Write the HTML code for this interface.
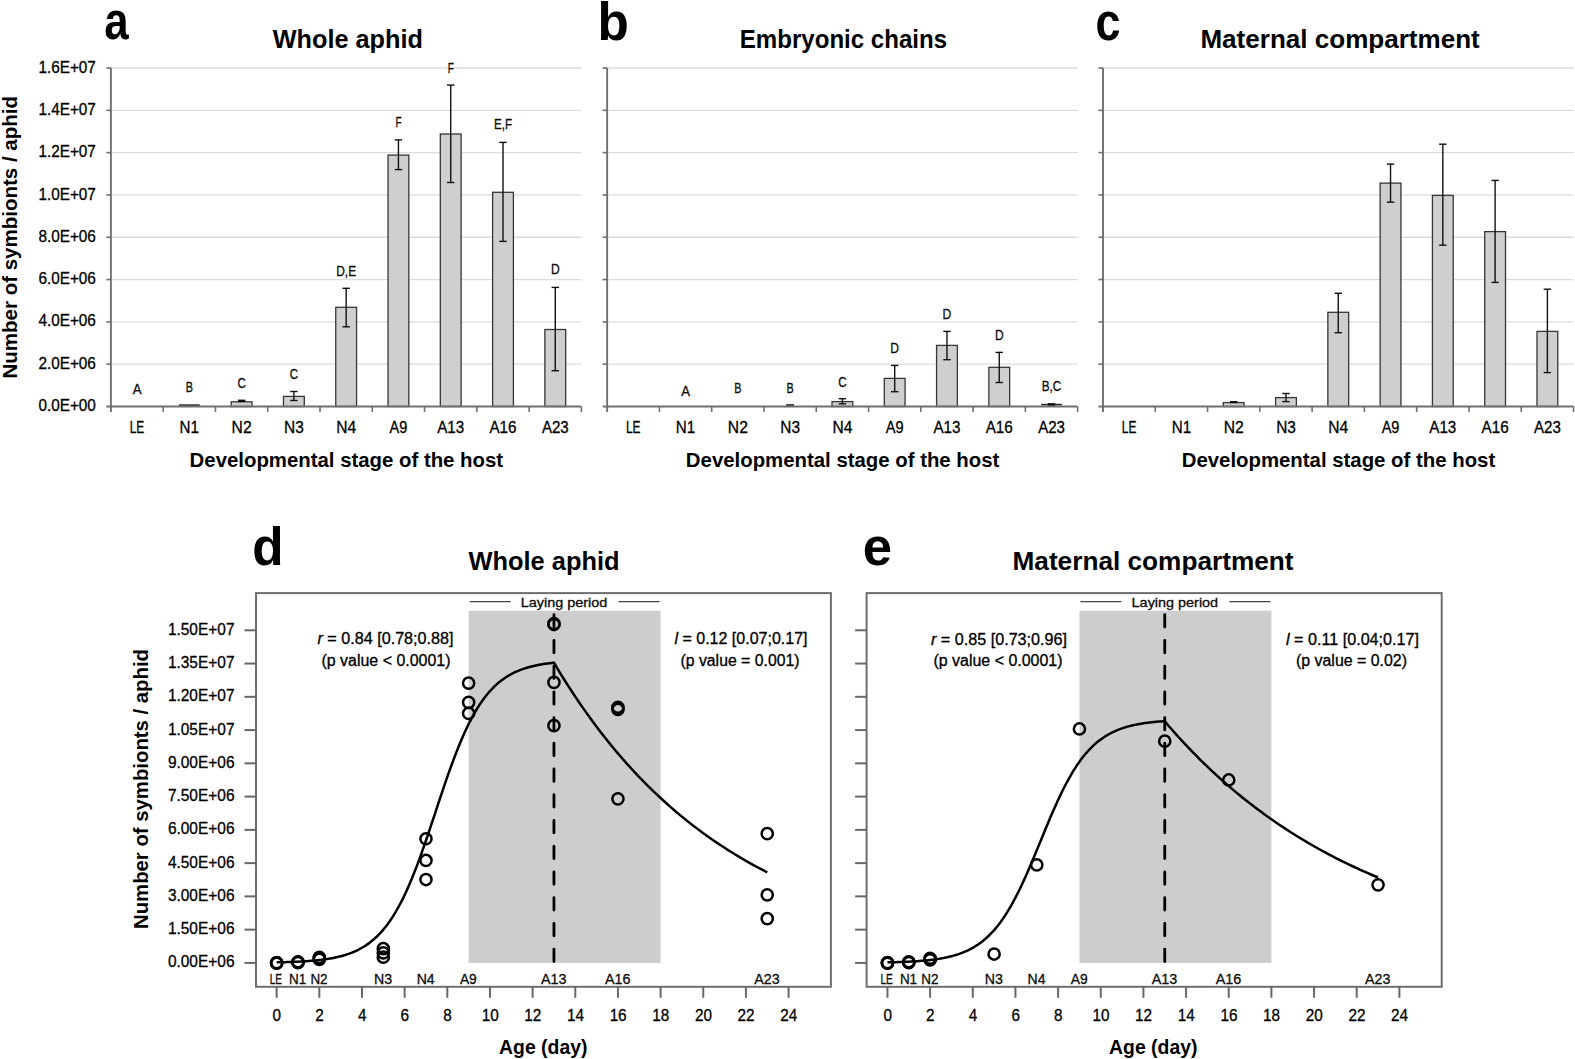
<!DOCTYPE html>
<html><head><meta charset="utf-8"><title>Figure</title>
<style>
html,body{margin:0;padding:0;background:#fff;}
svg{display:block;font-family:'Liberation Sans', sans-serif;}
</style></head><body>
<svg width="1575" height="1059" viewBox="0 0 1575 1059">
<rect width="1575" height="1059" fill="#fff"/>
<line x1="110.90" y1="364.19" x2="581.42" y2="364.19" stroke="#dcdcdc" stroke-width="1.3"/>
<line x1="110.90" y1="321.88" x2="581.42" y2="321.88" stroke="#dcdcdc" stroke-width="1.3"/>
<line x1="110.90" y1="279.56" x2="581.42" y2="279.56" stroke="#dcdcdc" stroke-width="1.3"/>
<line x1="110.90" y1="237.25" x2="581.42" y2="237.25" stroke="#dcdcdc" stroke-width="1.3"/>
<line x1="110.90" y1="194.94" x2="581.42" y2="194.94" stroke="#dcdcdc" stroke-width="1.3"/>
<line x1="110.90" y1="152.62" x2="581.42" y2="152.62" stroke="#dcdcdc" stroke-width="1.3"/>
<line x1="110.90" y1="110.31" x2="581.42" y2="110.31" stroke="#dcdcdc" stroke-width="1.3"/>
<line x1="110.90" y1="68.00" x2="581.42" y2="68.00" stroke="#dcdcdc" stroke-width="1.3"/>
<line x1="178.92" y1="405.10" x2="199.72" y2="405.10" stroke="#262626" stroke-width="1.6"/>
<rect x="231.20" y="401.80" width="20.8" height="4.70" fill="#cfcfcf" stroke="#363636" stroke-width="1.3"/>
<line x1="241.60" y1="400.30" x2="241.60" y2="401.40" stroke="#111" stroke-width="1.4"/>
<line x1="237.90" y1="400.30" x2="245.30" y2="400.30" stroke="#111" stroke-width="1.4"/>
<line x1="237.90" y1="401.40" x2="245.30" y2="401.40" stroke="#111" stroke-width="1.4"/>
<rect x="283.48" y="396.40" width="20.8" height="10.10" fill="#cfcfcf" stroke="#363636" stroke-width="1.3"/>
<line x1="293.88" y1="391.50" x2="293.88" y2="400.50" stroke="#111" stroke-width="1.4"/>
<line x1="290.18" y1="391.50" x2="297.58" y2="391.50" stroke="#111" stroke-width="1.4"/>
<line x1="290.18" y1="400.50" x2="297.58" y2="400.50" stroke="#111" stroke-width="1.4"/>
<rect x="335.76" y="307.30" width="20.8" height="99.20" fill="#cfcfcf" stroke="#363636" stroke-width="1.3"/>
<line x1="346.16" y1="288.30" x2="346.16" y2="326.80" stroke="#111" stroke-width="1.4"/>
<line x1="342.46" y1="288.30" x2="349.86" y2="288.30" stroke="#111" stroke-width="1.4"/>
<line x1="342.46" y1="326.80" x2="349.86" y2="326.80" stroke="#111" stroke-width="1.4"/>
<rect x="388.04" y="155.10" width="20.8" height="251.40" fill="#cfcfcf" stroke="#363636" stroke-width="1.3"/>
<line x1="398.44" y1="139.90" x2="398.44" y2="169.60" stroke="#111" stroke-width="1.4"/>
<line x1="394.74" y1="139.90" x2="402.14" y2="139.90" stroke="#111" stroke-width="1.4"/>
<line x1="394.74" y1="169.60" x2="402.14" y2="169.60" stroke="#111" stroke-width="1.4"/>
<rect x="440.32" y="134.00" width="20.8" height="272.50" fill="#cfcfcf" stroke="#363636" stroke-width="1.3"/>
<line x1="450.72" y1="85.10" x2="450.72" y2="182.50" stroke="#111" stroke-width="1.4"/>
<line x1="447.02" y1="85.10" x2="454.42" y2="85.10" stroke="#111" stroke-width="1.4"/>
<line x1="447.02" y1="182.50" x2="454.42" y2="182.50" stroke="#111" stroke-width="1.4"/>
<rect x="492.60" y="192.30" width="20.8" height="214.20" fill="#cfcfcf" stroke="#363636" stroke-width="1.3"/>
<line x1="503.00" y1="142.40" x2="503.00" y2="241.40" stroke="#111" stroke-width="1.4"/>
<line x1="499.30" y1="142.40" x2="506.70" y2="142.40" stroke="#111" stroke-width="1.4"/>
<line x1="499.30" y1="241.40" x2="506.70" y2="241.40" stroke="#111" stroke-width="1.4"/>
<rect x="544.88" y="329.50" width="20.8" height="77.00" fill="#cfcfcf" stroke="#363636" stroke-width="1.3"/>
<line x1="555.28" y1="287.40" x2="555.28" y2="370.70" stroke="#111" stroke-width="1.4"/>
<line x1="551.58" y1="287.40" x2="558.98" y2="287.40" stroke="#111" stroke-width="1.4"/>
<line x1="551.58" y1="370.70" x2="558.98" y2="370.70" stroke="#111" stroke-width="1.4"/>
<line x1="110.90" y1="68.00" x2="110.90" y2="412.00" stroke="#6f6f6f" stroke-width="1.9"/>
<line x1="106.40" y1="406.50" x2="581.42" y2="406.50" stroke="#6f6f6f" stroke-width="1.9"/>
<line x1="106.40" y1="364.19" x2="110.90" y2="364.19" stroke="#6f6f6f" stroke-width="1.6"/>
<line x1="106.40" y1="321.88" x2="110.90" y2="321.88" stroke="#6f6f6f" stroke-width="1.6"/>
<line x1="106.40" y1="279.56" x2="110.90" y2="279.56" stroke="#6f6f6f" stroke-width="1.6"/>
<line x1="106.40" y1="237.25" x2="110.90" y2="237.25" stroke="#6f6f6f" stroke-width="1.6"/>
<line x1="106.40" y1="194.94" x2="110.90" y2="194.94" stroke="#6f6f6f" stroke-width="1.6"/>
<line x1="106.40" y1="152.62" x2="110.90" y2="152.62" stroke="#6f6f6f" stroke-width="1.6"/>
<line x1="106.40" y1="110.31" x2="110.90" y2="110.31" stroke="#6f6f6f" stroke-width="1.6"/>
<line x1="106.40" y1="68.00" x2="110.90" y2="68.00" stroke="#6f6f6f" stroke-width="1.6"/>
<line x1="163.18" y1="406.50" x2="163.18" y2="412.00" stroke="#6f6f6f" stroke-width="1.6"/>
<line x1="215.46" y1="406.50" x2="215.46" y2="412.00" stroke="#6f6f6f" stroke-width="1.6"/>
<line x1="267.74" y1="406.50" x2="267.74" y2="412.00" stroke="#6f6f6f" stroke-width="1.6"/>
<line x1="320.02" y1="406.50" x2="320.02" y2="412.00" stroke="#6f6f6f" stroke-width="1.6"/>
<line x1="372.30" y1="406.50" x2="372.30" y2="412.00" stroke="#6f6f6f" stroke-width="1.6"/>
<line x1="424.58" y1="406.50" x2="424.58" y2="412.00" stroke="#6f6f6f" stroke-width="1.6"/>
<line x1="476.86" y1="406.50" x2="476.86" y2="412.00" stroke="#6f6f6f" stroke-width="1.6"/>
<line x1="529.14" y1="406.50" x2="529.14" y2="412.00" stroke="#6f6f6f" stroke-width="1.6"/>
<line x1="581.42" y1="406.50" x2="581.42" y2="412.00" stroke="#6f6f6f" stroke-width="1.6"/>
<text x="129.74" y="433.00" font-size="16.0" stroke="#000" stroke-width="0.3" textLength="14.60" lengthAdjust="spacingAndGlyphs">LE</text>
<text x="179.62" y="433.00" font-size="16.0" stroke="#000" stroke-width="0.3" textLength="19.40" lengthAdjust="spacingAndGlyphs">N1</text>
<text x="231.60" y="433.00" font-size="16.0" stroke="#000" stroke-width="0.3" textLength="20.00" lengthAdjust="spacingAndGlyphs">N2</text>
<text x="284.03" y="433.00" font-size="16.0" stroke="#000" stroke-width="0.3" textLength="19.70" lengthAdjust="spacingAndGlyphs">N3</text>
<text x="336.21" y="433.00" font-size="16.0" stroke="#000" stroke-width="0.3" textLength="19.90" lengthAdjust="spacingAndGlyphs">N4</text>
<text x="389.54" y="433.00" font-size="16.0" stroke="#000" stroke-width="0.3" textLength="17.80" lengthAdjust="spacingAndGlyphs">A9</text>
<text x="437.22" y="433.00" font-size="16.0" stroke="#000" stroke-width="0.3" textLength="27.00" lengthAdjust="spacingAndGlyphs">A13</text>
<text x="489.50" y="433.00" font-size="16.0" stroke="#000" stroke-width="0.3" textLength="27.00" lengthAdjust="spacingAndGlyphs">A16</text>
<text x="541.88" y="433.00" font-size="16.0" stroke="#000" stroke-width="0.3" textLength="26.80" lengthAdjust="spacingAndGlyphs">A23</text>
<text x="132.64" y="393.90" font-size="14.4" stroke="#000" stroke-width="0.3" textLength="8.80" lengthAdjust="spacingAndGlyphs" fill="#111">A</text>
<text x="185.72" y="392.30" font-size="14.4" stroke="#000" stroke-width="0.3" textLength="7.20" lengthAdjust="spacingAndGlyphs" fill="#111">B</text>
<text x="237.40" y="387.60" font-size="14.4" stroke="#000" stroke-width="0.3" textLength="8.40" lengthAdjust="spacingAndGlyphs" fill="#111">C</text>
<text x="289.68" y="379.40" font-size="14.4" stroke="#000" stroke-width="0.3" textLength="8.40" lengthAdjust="spacingAndGlyphs" fill="#111">C</text>
<text x="336.21" y="275.90" font-size="14.4" stroke="#000" stroke-width="0.3" textLength="19.90" lengthAdjust="spacingAndGlyphs" fill="#111">D,E</text>
<text x="395.39" y="126.90" font-size="14.4" stroke="#000" stroke-width="0.3" textLength="6.10" lengthAdjust="spacingAndGlyphs" fill="#111">F</text>
<text x="447.67" y="72.90" font-size="14.4" stroke="#000" stroke-width="0.3" textLength="6.10" lengthAdjust="spacingAndGlyphs" fill="#111">F</text>
<text x="493.95" y="128.90" font-size="14.4" stroke="#000" stroke-width="0.3" textLength="18.10" lengthAdjust="spacingAndGlyphs" fill="#111">E,F</text>
<text x="550.93" y="273.90" font-size="14.4" stroke="#000" stroke-width="0.3" textLength="8.70" lengthAdjust="spacingAndGlyphs" fill="#111">D</text>
<text x="38.40" y="411.10" font-size="16.0" stroke="#000" stroke-width="0.3" textLength="57.50" lengthAdjust="spacingAndGlyphs">0.0E+00</text>
<text x="38.40" y="368.79" font-size="16.0" stroke="#000" stroke-width="0.3" textLength="57.50" lengthAdjust="spacingAndGlyphs">2.0E+06</text>
<text x="38.40" y="326.48" font-size="16.0" stroke="#000" stroke-width="0.3" textLength="57.50" lengthAdjust="spacingAndGlyphs">4.0E+06</text>
<text x="38.40" y="284.16" font-size="16.0" stroke="#000" stroke-width="0.3" textLength="57.50" lengthAdjust="spacingAndGlyphs">6.0E+06</text>
<text x="38.40" y="241.85" font-size="16.0" stroke="#000" stroke-width="0.3" textLength="57.50" lengthAdjust="spacingAndGlyphs">8.0E+06</text>
<text x="38.40" y="199.54" font-size="16.0" stroke="#000" stroke-width="0.3" textLength="57.50" lengthAdjust="spacingAndGlyphs">1.0E+07</text>
<text x="38.40" y="157.22" font-size="16.0" stroke="#000" stroke-width="0.3" textLength="57.50" lengthAdjust="spacingAndGlyphs">1.2E+07</text>
<text x="38.40" y="114.91" font-size="16.0" stroke="#000" stroke-width="0.3" textLength="57.50" lengthAdjust="spacingAndGlyphs">1.4E+07</text>
<text x="38.40" y="72.60" font-size="16.0" stroke="#000" stroke-width="0.3" textLength="57.50" lengthAdjust="spacingAndGlyphs">1.6E+07</text>
<text x="189.60" y="466.70" font-size="20.3" font-weight="bold" textLength="313.50" lengthAdjust="spacingAndGlyphs">Developmental stage of the host</text>
<line x1="607.15" y1="364.19" x2="1077.67" y2="364.19" stroke="#dcdcdc" stroke-width="1.3"/>
<line x1="607.15" y1="321.88" x2="1077.67" y2="321.88" stroke="#dcdcdc" stroke-width="1.3"/>
<line x1="607.15" y1="279.56" x2="1077.67" y2="279.56" stroke="#dcdcdc" stroke-width="1.3"/>
<line x1="607.15" y1="237.25" x2="1077.67" y2="237.25" stroke="#dcdcdc" stroke-width="1.3"/>
<line x1="607.15" y1="194.94" x2="1077.67" y2="194.94" stroke="#dcdcdc" stroke-width="1.3"/>
<line x1="607.15" y1="152.62" x2="1077.67" y2="152.62" stroke="#dcdcdc" stroke-width="1.3"/>
<line x1="607.15" y1="110.31" x2="1077.67" y2="110.31" stroke="#dcdcdc" stroke-width="1.3"/>
<line x1="607.15" y1="68.00" x2="1077.67" y2="68.00" stroke="#dcdcdc" stroke-width="1.3"/>
<rect x="832.01" y="401.60" width="20.8" height="4.90" fill="#cfcfcf" stroke="#363636" stroke-width="1.3"/>
<line x1="842.41" y1="398.70" x2="842.41" y2="403.80" stroke="#111" stroke-width="1.4"/>
<line x1="838.71" y1="398.70" x2="846.11" y2="398.70" stroke="#111" stroke-width="1.4"/>
<line x1="838.71" y1="403.80" x2="846.11" y2="403.80" stroke="#111" stroke-width="1.4"/>
<rect x="884.29" y="378.40" width="20.8" height="28.10" fill="#cfcfcf" stroke="#363636" stroke-width="1.3"/>
<line x1="894.69" y1="365.40" x2="894.69" y2="391.70" stroke="#111" stroke-width="1.4"/>
<line x1="890.99" y1="365.40" x2="898.39" y2="365.40" stroke="#111" stroke-width="1.4"/>
<line x1="890.99" y1="391.70" x2="898.39" y2="391.70" stroke="#111" stroke-width="1.4"/>
<rect x="936.57" y="345.40" width="20.8" height="61.10" fill="#cfcfcf" stroke="#363636" stroke-width="1.3"/>
<line x1="946.97" y1="331.40" x2="946.97" y2="359.70" stroke="#111" stroke-width="1.4"/>
<line x1="943.27" y1="331.40" x2="950.67" y2="331.40" stroke="#111" stroke-width="1.4"/>
<line x1="943.27" y1="359.70" x2="950.67" y2="359.70" stroke="#111" stroke-width="1.4"/>
<rect x="988.85" y="367.30" width="20.8" height="39.20" fill="#cfcfcf" stroke="#363636" stroke-width="1.3"/>
<line x1="999.25" y1="352.40" x2="999.25" y2="382.50" stroke="#111" stroke-width="1.4"/>
<line x1="995.55" y1="352.40" x2="1002.95" y2="352.40" stroke="#111" stroke-width="1.4"/>
<line x1="995.55" y1="382.50" x2="1002.95" y2="382.50" stroke="#111" stroke-width="1.4"/>
<line x1="1041.13" y1="404.60" x2="1061.93" y2="404.60" stroke="#262626" stroke-width="1.6"/>
<line x1="1051.53" y1="403.80" x2="1051.53" y2="405.30" stroke="#111" stroke-width="1.4"/>
<line x1="1047.83" y1="403.80" x2="1055.23" y2="403.80" stroke="#111" stroke-width="1.4"/>
<line x1="1047.83" y1="405.30" x2="1055.23" y2="405.30" stroke="#111" stroke-width="1.4"/>
<line x1="607.15" y1="68.00" x2="607.15" y2="412.00" stroke="#6f6f6f" stroke-width="1.9"/>
<line x1="602.65" y1="406.50" x2="1077.67" y2="406.50" stroke="#6f6f6f" stroke-width="1.9"/>
<line x1="602.65" y1="364.19" x2="607.15" y2="364.19" stroke="#6f6f6f" stroke-width="1.6"/>
<line x1="602.65" y1="321.88" x2="607.15" y2="321.88" stroke="#6f6f6f" stroke-width="1.6"/>
<line x1="602.65" y1="279.56" x2="607.15" y2="279.56" stroke="#6f6f6f" stroke-width="1.6"/>
<line x1="602.65" y1="237.25" x2="607.15" y2="237.25" stroke="#6f6f6f" stroke-width="1.6"/>
<line x1="602.65" y1="194.94" x2="607.15" y2="194.94" stroke="#6f6f6f" stroke-width="1.6"/>
<line x1="602.65" y1="152.62" x2="607.15" y2="152.62" stroke="#6f6f6f" stroke-width="1.6"/>
<line x1="602.65" y1="110.31" x2="607.15" y2="110.31" stroke="#6f6f6f" stroke-width="1.6"/>
<line x1="602.65" y1="68.00" x2="607.15" y2="68.00" stroke="#6f6f6f" stroke-width="1.6"/>
<line x1="659.43" y1="406.50" x2="659.43" y2="412.00" stroke="#6f6f6f" stroke-width="1.6"/>
<line x1="711.71" y1="406.50" x2="711.71" y2="412.00" stroke="#6f6f6f" stroke-width="1.6"/>
<line x1="763.99" y1="406.50" x2="763.99" y2="412.00" stroke="#6f6f6f" stroke-width="1.6"/>
<line x1="816.27" y1="406.50" x2="816.27" y2="412.00" stroke="#6f6f6f" stroke-width="1.6"/>
<line x1="868.55" y1="406.50" x2="868.55" y2="412.00" stroke="#6f6f6f" stroke-width="1.6"/>
<line x1="920.83" y1="406.50" x2="920.83" y2="412.00" stroke="#6f6f6f" stroke-width="1.6"/>
<line x1="973.11" y1="406.50" x2="973.11" y2="412.00" stroke="#6f6f6f" stroke-width="1.6"/>
<line x1="1025.39" y1="406.50" x2="1025.39" y2="412.00" stroke="#6f6f6f" stroke-width="1.6"/>
<line x1="1077.67" y1="406.50" x2="1077.67" y2="412.00" stroke="#6f6f6f" stroke-width="1.6"/>
<text x="625.99" y="433.00" font-size="16.0" stroke="#000" stroke-width="0.3" textLength="14.60" lengthAdjust="spacingAndGlyphs">LE</text>
<text x="675.87" y="433.00" font-size="16.0" stroke="#000" stroke-width="0.3" textLength="19.40" lengthAdjust="spacingAndGlyphs">N1</text>
<text x="727.85" y="433.00" font-size="16.0" stroke="#000" stroke-width="0.3" textLength="20.00" lengthAdjust="spacingAndGlyphs">N2</text>
<text x="780.28" y="433.00" font-size="16.0" stroke="#000" stroke-width="0.3" textLength="19.70" lengthAdjust="spacingAndGlyphs">N3</text>
<text x="832.46" y="433.00" font-size="16.0" stroke="#000" stroke-width="0.3" textLength="19.90" lengthAdjust="spacingAndGlyphs">N4</text>
<text x="885.79" y="433.00" font-size="16.0" stroke="#000" stroke-width="0.3" textLength="17.80" lengthAdjust="spacingAndGlyphs">A9</text>
<text x="933.47" y="433.00" font-size="16.0" stroke="#000" stroke-width="0.3" textLength="27.00" lengthAdjust="spacingAndGlyphs">A13</text>
<text x="985.75" y="433.00" font-size="16.0" stroke="#000" stroke-width="0.3" textLength="27.00" lengthAdjust="spacingAndGlyphs">A16</text>
<text x="1038.13" y="433.00" font-size="16.0" stroke="#000" stroke-width="0.3" textLength="26.80" lengthAdjust="spacingAndGlyphs">A23</text>
<text x="681.17" y="395.50" font-size="14.4" stroke="#000" stroke-width="0.3" textLength="8.80" lengthAdjust="spacingAndGlyphs" fill="#111">A</text>
<text x="734.25" y="393.00" font-size="14.4" stroke="#000" stroke-width="0.3" textLength="7.20" lengthAdjust="spacingAndGlyphs" fill="#111">B</text>
<text x="786.53" y="393.00" font-size="14.4" stroke="#000" stroke-width="0.3" textLength="7.20" lengthAdjust="spacingAndGlyphs" fill="#111">B</text>
<text x="838.21" y="387.00" font-size="14.4" stroke="#000" stroke-width="0.3" textLength="8.40" lengthAdjust="spacingAndGlyphs" fill="#111">C</text>
<text x="890.34" y="353.00" font-size="14.4" stroke="#000" stroke-width="0.3" textLength="8.70" lengthAdjust="spacingAndGlyphs" fill="#111">D</text>
<text x="942.62" y="319.00" font-size="14.4" stroke="#000" stroke-width="0.3" textLength="8.70" lengthAdjust="spacingAndGlyphs" fill="#111">D</text>
<text x="994.90" y="340.00" font-size="14.4" stroke="#000" stroke-width="0.3" textLength="8.70" lengthAdjust="spacingAndGlyphs" fill="#111">D</text>
<text x="1041.73" y="391.00" font-size="14.4" stroke="#000" stroke-width="0.3" textLength="19.60" lengthAdjust="spacingAndGlyphs" fill="#111">B,C</text>
<text x="685.85" y="466.70" font-size="20.3" font-weight="bold" textLength="313.50" lengthAdjust="spacingAndGlyphs">Developmental stage of the host</text>
<line x1="786.23" y1="404.90" x2="794.03" y2="404.90" stroke="#222" stroke-width="1.5"/>
<line x1="1103.00" y1="364.19" x2="1573.52" y2="364.19" stroke="#dcdcdc" stroke-width="1.3"/>
<line x1="1103.00" y1="321.88" x2="1573.52" y2="321.88" stroke="#dcdcdc" stroke-width="1.3"/>
<line x1="1103.00" y1="279.56" x2="1573.52" y2="279.56" stroke="#dcdcdc" stroke-width="1.3"/>
<line x1="1103.00" y1="237.25" x2="1573.52" y2="237.25" stroke="#dcdcdc" stroke-width="1.3"/>
<line x1="1103.00" y1="194.94" x2="1573.52" y2="194.94" stroke="#dcdcdc" stroke-width="1.3"/>
<line x1="1103.00" y1="152.62" x2="1573.52" y2="152.62" stroke="#dcdcdc" stroke-width="1.3"/>
<line x1="1103.00" y1="110.31" x2="1573.52" y2="110.31" stroke="#dcdcdc" stroke-width="1.3"/>
<line x1="1103.00" y1="68.00" x2="1573.52" y2="68.00" stroke="#dcdcdc" stroke-width="1.3"/>
<rect x="1223.30" y="402.60" width="20.8" height="3.90" fill="#cfcfcf" stroke="#363636" stroke-width="1.3"/>
<line x1="1233.70" y1="401.70" x2="1233.70" y2="402.50" stroke="#111" stroke-width="1.4"/>
<line x1="1230.00" y1="401.70" x2="1237.40" y2="401.70" stroke="#111" stroke-width="1.4"/>
<line x1="1230.00" y1="402.50" x2="1237.40" y2="402.50" stroke="#111" stroke-width="1.4"/>
<rect x="1275.58" y="397.60" width="20.8" height="8.90" fill="#cfcfcf" stroke="#363636" stroke-width="1.3"/>
<line x1="1285.98" y1="393.50" x2="1285.98" y2="401.60" stroke="#111" stroke-width="1.4"/>
<line x1="1282.28" y1="393.50" x2="1289.68" y2="393.50" stroke="#111" stroke-width="1.4"/>
<line x1="1282.28" y1="401.60" x2="1289.68" y2="401.60" stroke="#111" stroke-width="1.4"/>
<rect x="1327.86" y="312.30" width="20.8" height="94.20" fill="#cfcfcf" stroke="#363636" stroke-width="1.3"/>
<line x1="1338.26" y1="293.30" x2="1338.26" y2="332.70" stroke="#111" stroke-width="1.4"/>
<line x1="1334.56" y1="293.30" x2="1341.96" y2="293.30" stroke="#111" stroke-width="1.4"/>
<line x1="1334.56" y1="332.70" x2="1341.96" y2="332.70" stroke="#111" stroke-width="1.4"/>
<rect x="1380.14" y="183.10" width="20.8" height="223.40" fill="#cfcfcf" stroke="#363636" stroke-width="1.3"/>
<line x1="1390.54" y1="164.10" x2="1390.54" y2="202.20" stroke="#111" stroke-width="1.4"/>
<line x1="1386.84" y1="164.10" x2="1394.24" y2="164.10" stroke="#111" stroke-width="1.4"/>
<line x1="1386.84" y1="202.20" x2="1394.24" y2="202.20" stroke="#111" stroke-width="1.4"/>
<rect x="1432.42" y="195.40" width="20.8" height="211.10" fill="#cfcfcf" stroke="#363636" stroke-width="1.3"/>
<line x1="1442.82" y1="144.20" x2="1442.82" y2="245.20" stroke="#111" stroke-width="1.4"/>
<line x1="1439.12" y1="144.20" x2="1446.52" y2="144.20" stroke="#111" stroke-width="1.4"/>
<line x1="1439.12" y1="245.20" x2="1446.52" y2="245.20" stroke="#111" stroke-width="1.4"/>
<rect x="1484.70" y="231.60" width="20.8" height="174.90" fill="#cfcfcf" stroke="#363636" stroke-width="1.3"/>
<line x1="1495.10" y1="180.40" x2="1495.10" y2="282.40" stroke="#111" stroke-width="1.4"/>
<line x1="1491.40" y1="180.40" x2="1498.80" y2="180.40" stroke="#111" stroke-width="1.4"/>
<line x1="1491.40" y1="282.40" x2="1498.80" y2="282.40" stroke="#111" stroke-width="1.4"/>
<rect x="1536.98" y="331.40" width="20.8" height="75.10" fill="#cfcfcf" stroke="#363636" stroke-width="1.3"/>
<line x1="1547.38" y1="289.20" x2="1547.38" y2="372.60" stroke="#111" stroke-width="1.4"/>
<line x1="1543.68" y1="289.20" x2="1551.08" y2="289.20" stroke="#111" stroke-width="1.4"/>
<line x1="1543.68" y1="372.60" x2="1551.08" y2="372.60" stroke="#111" stroke-width="1.4"/>
<line x1="1103.00" y1="68.00" x2="1103.00" y2="412.00" stroke="#6f6f6f" stroke-width="1.9"/>
<line x1="1098.50" y1="406.50" x2="1573.52" y2="406.50" stroke="#6f6f6f" stroke-width="1.9"/>
<line x1="1098.50" y1="364.19" x2="1103.00" y2="364.19" stroke="#6f6f6f" stroke-width="1.6"/>
<line x1="1098.50" y1="321.88" x2="1103.00" y2="321.88" stroke="#6f6f6f" stroke-width="1.6"/>
<line x1="1098.50" y1="279.56" x2="1103.00" y2="279.56" stroke="#6f6f6f" stroke-width="1.6"/>
<line x1="1098.50" y1="237.25" x2="1103.00" y2="237.25" stroke="#6f6f6f" stroke-width="1.6"/>
<line x1="1098.50" y1="194.94" x2="1103.00" y2="194.94" stroke="#6f6f6f" stroke-width="1.6"/>
<line x1="1098.50" y1="152.62" x2="1103.00" y2="152.62" stroke="#6f6f6f" stroke-width="1.6"/>
<line x1="1098.50" y1="110.31" x2="1103.00" y2="110.31" stroke="#6f6f6f" stroke-width="1.6"/>
<line x1="1098.50" y1="68.00" x2="1103.00" y2="68.00" stroke="#6f6f6f" stroke-width="1.6"/>
<line x1="1155.28" y1="406.50" x2="1155.28" y2="412.00" stroke="#6f6f6f" stroke-width="1.6"/>
<line x1="1207.56" y1="406.50" x2="1207.56" y2="412.00" stroke="#6f6f6f" stroke-width="1.6"/>
<line x1="1259.84" y1="406.50" x2="1259.84" y2="412.00" stroke="#6f6f6f" stroke-width="1.6"/>
<line x1="1312.12" y1="406.50" x2="1312.12" y2="412.00" stroke="#6f6f6f" stroke-width="1.6"/>
<line x1="1364.40" y1="406.50" x2="1364.40" y2="412.00" stroke="#6f6f6f" stroke-width="1.6"/>
<line x1="1416.68" y1="406.50" x2="1416.68" y2="412.00" stroke="#6f6f6f" stroke-width="1.6"/>
<line x1="1468.96" y1="406.50" x2="1468.96" y2="412.00" stroke="#6f6f6f" stroke-width="1.6"/>
<line x1="1521.24" y1="406.50" x2="1521.24" y2="412.00" stroke="#6f6f6f" stroke-width="1.6"/>
<line x1="1573.52" y1="406.50" x2="1573.52" y2="412.00" stroke="#6f6f6f" stroke-width="1.6"/>
<text x="1121.84" y="433.00" font-size="16.0" stroke="#000" stroke-width="0.3" textLength="14.60" lengthAdjust="spacingAndGlyphs">LE</text>
<text x="1171.72" y="433.00" font-size="16.0" stroke="#000" stroke-width="0.3" textLength="19.40" lengthAdjust="spacingAndGlyphs">N1</text>
<text x="1223.70" y="433.00" font-size="16.0" stroke="#000" stroke-width="0.3" textLength="20.00" lengthAdjust="spacingAndGlyphs">N2</text>
<text x="1276.13" y="433.00" font-size="16.0" stroke="#000" stroke-width="0.3" textLength="19.70" lengthAdjust="spacingAndGlyphs">N3</text>
<text x="1328.31" y="433.00" font-size="16.0" stroke="#000" stroke-width="0.3" textLength="19.90" lengthAdjust="spacingAndGlyphs">N4</text>
<text x="1381.64" y="433.00" font-size="16.0" stroke="#000" stroke-width="0.3" textLength="17.80" lengthAdjust="spacingAndGlyphs">A9</text>
<text x="1429.32" y="433.00" font-size="16.0" stroke="#000" stroke-width="0.3" textLength="27.00" lengthAdjust="spacingAndGlyphs">A13</text>
<text x="1481.60" y="433.00" font-size="16.0" stroke="#000" stroke-width="0.3" textLength="27.00" lengthAdjust="spacingAndGlyphs">A16</text>
<text x="1533.98" y="433.00" font-size="16.0" stroke="#000" stroke-width="0.3" textLength="26.80" lengthAdjust="spacingAndGlyphs">A23</text>
<text x="1181.70" y="466.70" font-size="20.3" font-weight="bold" textLength="313.50" lengthAdjust="spacingAndGlyphs">Developmental stage of the host</text>
<text x="16.80" y="378.50" font-size="20.3" font-weight="bold" textLength="282.50" lengthAdjust="spacingAndGlyphs" transform="rotate(-90 16.80 378.50)">Number of symbionts / aphid</text>
<text x="104.15" y="39.40" font-size="53" font-weight="bold" textLength="24.40" lengthAdjust="spacingAndGlyphs">a</text>
<text x="597.40" y="39.80" font-size="53" font-weight="bold" textLength="31.30" lengthAdjust="spacingAndGlyphs">b</text>
<text x="1095.50" y="39.50" font-size="53" font-weight="bold" textLength="25.00" lengthAdjust="spacingAndGlyphs">c</text>
<text x="272.70" y="47.70" font-size="25.0" font-weight="bold" textLength="150.20" lengthAdjust="spacingAndGlyphs">Whole aphid</text>
<text x="739.80" y="47.70" font-size="25.0" font-weight="bold" textLength="207.30" lengthAdjust="spacingAndGlyphs">Embryonic chains</text>
<text x="1200.40" y="47.70" font-size="25.0" font-weight="bold" textLength="279.40" lengthAdjust="spacingAndGlyphs">Maternal compartment</text>
<rect x="468.63" y="610.7" width="191.97" height="352.20" fill="#cdcdcd"/>
<line x1="469.63" y1="601.60" x2="510.63" y2="601.60" stroke="#444" stroke-width="1.2"/>
<line x1="618.60" y1="601.60" x2="659.60" y2="601.60" stroke="#444" stroke-width="1.2"/>
<text x="520.82" y="607.00" font-size="13.6" stroke="#000" stroke-width="0.3" textLength="86.50" lengthAdjust="spacingAndGlyphs" fill="#111">Laying period</text>
<line x1="553.95" y1="961.50" x2="553.95" y2="614.6" stroke="#000" stroke-width="2.8" stroke-linecap="round" stroke-dasharray="12.4 13.33"/>
<polyline points="276.66,962.37 278.79,962.33 280.93,962.28 283.06,962.22 285.19,962.16 287.33,962.10 289.46,962.02 291.59,961.95 293.72,961.86 295.86,961.77 297.99,961.67 300.12,961.56 302.26,961.44 304.39,961.31 306.52,961.17 308.66,961.02 310.79,960.85 312.92,960.67 315.05,960.48 317.19,960.26 319.32,960.03 321.45,959.78 323.59,959.50 325.72,959.20 327.85,958.88 329.99,958.53 332.12,958.15 334.25,957.73 336.38,957.28 338.52,956.79 340.65,956.26 342.78,955.68 344.92,955.05 347.05,954.37 349.18,953.64 351.32,952.84 353.45,951.98 355.58,951.05 357.71,950.04 359.85,948.95 361.98,947.77 364.11,946.49 366.25,945.12 368.38,943.64 370.51,942.04 372.64,940.32 374.78,938.48 376.91,936.49 379.04,934.37 381.18,932.09 383.31,929.65 385.44,927.04 387.58,924.25 389.71,921.29 391.84,918.13 393.98,914.78 396.11,911.23 398.24,907.48 400.37,903.51 402.51,899.34 404.64,894.95 406.77,890.35 408.91,885.55 411.04,880.54 413.17,875.33 415.31,869.93 417.44,864.35 419.57,858.60 421.70,852.70 423.84,846.66 425.97,840.49 428.10,834.23 430.24,827.89 432.37,821.48 434.50,815.04 436.63,808.59 438.77,802.15 440.90,795.74 443.03,789.39 445.17,783.11 447.30,776.94 449.43,770.88 451.57,764.96 453.70,759.20 455.83,753.60 457.97,748.18 460.10,742.94 462.23,737.91 464.36,733.08 466.50,728.46 468.63,724.05 470.76,719.85 472.90,715.87 475.03,712.09 477.16,708.51 479.30,705.14 481.43,701.97 483.56,698.98 485.69,696.18 487.83,693.55 489.96,691.09 492.09,688.79 494.23,686.65 496.36,684.65 498.49,682.79 500.62,681.06 502.76,679.45 504.89,677.95 507.02,676.57 509.16,675.28 511.29,674.09 513.42,672.99 515.56,671.97 517.69,671.03 519.82,670.16 521.96,669.36 524.09,668.62 526.22,667.93 528.35,667.30 530.49,666.72 532.62,666.18 534.75,665.69 536.89,665.23 539.02,664.81 541.15,664.43 543.29,664.07 545.42,663.74 547.55,663.44 549.68,663.16 551.82,662.91 553.95,662.67 557.50,668.72 561.06,674.53 564.62,680.23 568.17,685.82 571.73,691.30 575.28,696.67 578.84,701.93 582.39,707.09 585.94,712.15 589.50,717.10 593.06,721.96 596.61,726.73 600.16,731.39 603.72,735.97 607.27,740.46 610.83,744.85 614.38,749.17 617.94,753.39 621.50,757.53 625.05,761.59 628.61,765.57 632.16,769.47 635.71,773.30 639.27,777.04 642.83,780.72 646.38,784.32 649.93,787.85 653.49,791.31 657.04,794.70 660.60,798.03 664.15,801.29 667.71,804.48 671.26,807.61 674.82,810.68 678.38,813.69 681.93,816.64 685.49,819.53 689.04,822.37 692.60,825.15 696.15,827.87 699.70,830.54 703.26,833.16 706.82,835.72 710.37,838.23 713.92,840.70 717.48,843.11 721.03,845.48 724.59,847.80 728.14,850.08 731.70,852.31 735.25,854.50 738.81,856.64 742.37,858.74 745.92,860.80 749.47,862.82 753.03,864.80 756.59,866.73 760.14,868.64 763.70,870.50 767.25,872.33" fill="none" stroke="#000" stroke-width="2.5" stroke-linejoin="miter"/>
<circle cx="276.66" cy="962.90" r="5.6" fill="none" stroke="#000" stroke-width="2.5"/>
<circle cx="276.66" cy="962.57" r="5.6" fill="none" stroke="#000" stroke-width="2.5"/>
<circle cx="276.66" cy="963.23" r="5.6" fill="none" stroke="#000" stroke-width="2.5"/>
<circle cx="297.99" cy="962.23" r="5.6" fill="none" stroke="#000" stroke-width="2.5"/>
<circle cx="297.99" cy="961.79" r="5.6" fill="none" stroke="#000" stroke-width="2.5"/>
<circle cx="297.99" cy="962.68" r="5.6" fill="none" stroke="#000" stroke-width="2.5"/>
<circle cx="319.32" cy="958.47" r="5.6" fill="none" stroke="#000" stroke-width="2.5"/>
<circle cx="319.32" cy="957.36" r="5.6" fill="none" stroke="#000" stroke-width="2.5"/>
<circle cx="319.32" cy="959.35" r="5.6" fill="none" stroke="#000" stroke-width="2.5"/>
<circle cx="553.95" cy="624.53" r="5.6" fill="none" stroke="#000" stroke-width="2.5"/>
<circle cx="383.31" cy="957.13" r="5.6" fill="none" stroke="#000" stroke-width="2.5"/>
<circle cx="383.31" cy="952.92" r="5.6" fill="none" stroke="#000" stroke-width="2.5"/>
<circle cx="383.31" cy="948.71" r="5.6" fill="none" stroke="#000" stroke-width="2.5"/>
<circle cx="425.97" cy="838.73" r="5.6" fill="none" stroke="#000" stroke-width="2.5"/>
<circle cx="425.97" cy="860.46" r="5.6" fill="none" stroke="#000" stroke-width="2.5"/>
<circle cx="425.97" cy="879.53" r="5.6" fill="none" stroke="#000" stroke-width="2.5"/>
<circle cx="468.63" cy="683.07" r="5.6" fill="none" stroke="#000" stroke-width="2.5"/>
<circle cx="468.63" cy="702.36" r="5.6" fill="none" stroke="#000" stroke-width="2.5"/>
<circle cx="468.63" cy="713.45" r="5.6" fill="none" stroke="#000" stroke-width="2.5"/>
<circle cx="553.95" cy="623.65" r="5.6" fill="none" stroke="#000" stroke-width="2.5"/>
<circle cx="553.95" cy="682.41" r="5.6" fill="none" stroke="#000" stroke-width="2.5"/>
<circle cx="553.95" cy="725.65" r="5.6" fill="none" stroke="#000" stroke-width="2.5"/>
<circle cx="617.94" cy="707.24" r="5.6" fill="none" stroke="#000" stroke-width="2.5"/>
<circle cx="617.94" cy="709.46" r="5.6" fill="none" stroke="#000" stroke-width="2.5"/>
<circle cx="617.94" cy="798.82" r="5.6" fill="none" stroke="#000" stroke-width="2.5"/>
<circle cx="767.25" cy="833.63" r="5.6" fill="none" stroke="#000" stroke-width="2.5"/>
<circle cx="767.25" cy="894.83" r="5.6" fill="none" stroke="#000" stroke-width="2.5"/>
<circle cx="767.25" cy="918.55" r="5.6" fill="none" stroke="#000" stroke-width="2.5"/>
<rect x="256.00" y="593.10" width="574.90" height="393.70" fill="none" stroke="#6e6e6e" stroke-width="2"/>
<line x1="244.50" y1="962.90" x2="256.00" y2="962.90" stroke="#686868" stroke-width="2"/>
<text x="167.90" y="967.40" font-size="16.5" stroke="#000" stroke-width="0.3" textLength="66.60" lengthAdjust="spacingAndGlyphs">0.00E+06</text>
<line x1="244.50" y1="929.64" x2="256.00" y2="929.64" stroke="#686868" stroke-width="2"/>
<text x="167.90" y="934.14" font-size="16.5" stroke="#000" stroke-width="0.3" textLength="66.60" lengthAdjust="spacingAndGlyphs">1.50E+06</text>
<line x1="244.50" y1="896.38" x2="256.00" y2="896.38" stroke="#686868" stroke-width="2"/>
<text x="167.90" y="900.88" font-size="16.5" stroke="#000" stroke-width="0.3" textLength="66.60" lengthAdjust="spacingAndGlyphs">3.00E+06</text>
<line x1="244.50" y1="863.12" x2="256.00" y2="863.12" stroke="#686868" stroke-width="2"/>
<text x="167.90" y="867.62" font-size="16.5" stroke="#000" stroke-width="0.3" textLength="66.60" lengthAdjust="spacingAndGlyphs">4.50E+06</text>
<line x1="244.50" y1="829.86" x2="256.00" y2="829.86" stroke="#686868" stroke-width="2"/>
<text x="167.90" y="834.36" font-size="16.5" stroke="#000" stroke-width="0.3" textLength="66.60" lengthAdjust="spacingAndGlyphs">6.00E+06</text>
<line x1="244.50" y1="796.60" x2="256.00" y2="796.60" stroke="#686868" stroke-width="2"/>
<text x="167.90" y="801.10" font-size="16.5" stroke="#000" stroke-width="0.3" textLength="66.60" lengthAdjust="spacingAndGlyphs">7.50E+06</text>
<line x1="244.50" y1="763.34" x2="256.00" y2="763.34" stroke="#686868" stroke-width="2"/>
<text x="167.90" y="767.84" font-size="16.5" stroke="#000" stroke-width="0.3" textLength="66.60" lengthAdjust="spacingAndGlyphs">9.00E+06</text>
<line x1="244.50" y1="730.08" x2="256.00" y2="730.08" stroke="#686868" stroke-width="2"/>
<text x="167.90" y="734.58" font-size="16.5" stroke="#000" stroke-width="0.3" textLength="66.60" lengthAdjust="spacingAndGlyphs">1.05E+07</text>
<line x1="244.50" y1="696.82" x2="256.00" y2="696.82" stroke="#686868" stroke-width="2"/>
<text x="167.90" y="701.32" font-size="16.5" stroke="#000" stroke-width="0.3" textLength="66.60" lengthAdjust="spacingAndGlyphs">1.20E+07</text>
<line x1="244.50" y1="663.56" x2="256.00" y2="663.56" stroke="#686868" stroke-width="2"/>
<text x="167.90" y="668.06" font-size="16.5" stroke="#000" stroke-width="0.3" textLength="66.60" lengthAdjust="spacingAndGlyphs">1.35E+07</text>
<line x1="244.50" y1="630.30" x2="256.00" y2="630.30" stroke="#686868" stroke-width="2"/>
<text x="167.90" y="634.80" font-size="16.5" stroke="#000" stroke-width="0.3" textLength="66.60" lengthAdjust="spacingAndGlyphs">1.50E+07</text>
<line x1="276.66" y1="986.80" x2="276.66" y2="997.80" stroke="#686868" stroke-width="2"/>
<text x="272.61" y="1020.70" font-size="16.5" stroke="#000" stroke-width="0.3" textLength="8.50" lengthAdjust="spacingAndGlyphs">0</text>
<line x1="319.32" y1="986.80" x2="319.32" y2="997.80" stroke="#686868" stroke-width="2"/>
<text x="315.27" y="1020.70" font-size="16.5" stroke="#000" stroke-width="0.3" textLength="8.50" lengthAdjust="spacingAndGlyphs">2</text>
<line x1="361.98" y1="986.80" x2="361.98" y2="997.80" stroke="#686868" stroke-width="2"/>
<text x="357.93" y="1020.70" font-size="16.5" stroke="#000" stroke-width="0.3" textLength="8.50" lengthAdjust="spacingAndGlyphs">4</text>
<line x1="404.64" y1="986.80" x2="404.64" y2="997.80" stroke="#686868" stroke-width="2"/>
<text x="400.59" y="1020.70" font-size="16.5" stroke="#000" stroke-width="0.3" textLength="8.50" lengthAdjust="spacingAndGlyphs">6</text>
<line x1="447.30" y1="986.80" x2="447.30" y2="997.80" stroke="#686868" stroke-width="2"/>
<text x="443.25" y="1020.70" font-size="16.5" stroke="#000" stroke-width="0.3" textLength="8.50" lengthAdjust="spacingAndGlyphs">8</text>
<line x1="489.96" y1="986.80" x2="489.96" y2="997.80" stroke="#686868" stroke-width="2"/>
<text x="481.66" y="1020.70" font-size="16.5" stroke="#000" stroke-width="0.3" textLength="17.00" lengthAdjust="spacingAndGlyphs">10</text>
<line x1="532.62" y1="986.80" x2="532.62" y2="997.80" stroke="#686868" stroke-width="2"/>
<text x="524.32" y="1020.70" font-size="16.5" stroke="#000" stroke-width="0.3" textLength="17.00" lengthAdjust="spacingAndGlyphs">12</text>
<line x1="575.28" y1="986.80" x2="575.28" y2="997.80" stroke="#686868" stroke-width="2"/>
<text x="566.98" y="1020.70" font-size="16.5" stroke="#000" stroke-width="0.3" textLength="17.00" lengthAdjust="spacingAndGlyphs">14</text>
<line x1="617.94" y1="986.80" x2="617.94" y2="997.80" stroke="#686868" stroke-width="2"/>
<text x="609.64" y="1020.70" font-size="16.5" stroke="#000" stroke-width="0.3" textLength="17.00" lengthAdjust="spacingAndGlyphs">16</text>
<line x1="660.60" y1="986.80" x2="660.60" y2="997.80" stroke="#686868" stroke-width="2"/>
<text x="652.30" y="1020.70" font-size="16.5" stroke="#000" stroke-width="0.3" textLength="17.00" lengthAdjust="spacingAndGlyphs">18</text>
<line x1="703.26" y1="986.80" x2="703.26" y2="997.80" stroke="#686868" stroke-width="2"/>
<text x="694.96" y="1020.70" font-size="16.5" stroke="#000" stroke-width="0.3" textLength="17.00" lengthAdjust="spacingAndGlyphs">20</text>
<line x1="745.92" y1="986.80" x2="745.92" y2="997.80" stroke="#686868" stroke-width="2"/>
<text x="737.62" y="1020.70" font-size="16.5" stroke="#000" stroke-width="0.3" textLength="17.00" lengthAdjust="spacingAndGlyphs">22</text>
<line x1="788.58" y1="986.80" x2="788.58" y2="997.80" stroke="#686868" stroke-width="2"/>
<text x="780.28" y="1020.70" font-size="16.5" stroke="#000" stroke-width="0.3" textLength="17.00" lengthAdjust="spacingAndGlyphs">24</text>
<text x="269.66" y="983.80" font-size="14.7" stroke="#000" stroke-width="0.3" textLength="12.40" lengthAdjust="spacingAndGlyphs" fill="#111">LE</text>
<text x="289.09" y="983.80" font-size="14.7" stroke="#000" stroke-width="0.3" textLength="17.20" lengthAdjust="spacingAndGlyphs" fill="#111">N1</text>
<text x="310.42" y="983.80" font-size="14.7" stroke="#000" stroke-width="0.3" textLength="17.20" lengthAdjust="spacingAndGlyphs" fill="#111">N2</text>
<text x="373.96" y="983.80" font-size="14.7" stroke="#000" stroke-width="0.3" textLength="18.10" lengthAdjust="spacingAndGlyphs" fill="#111">N3</text>
<text x="416.67" y="983.80" font-size="14.7" stroke="#000" stroke-width="0.3" textLength="18.00" lengthAdjust="spacingAndGlyphs" fill="#111">N4</text>
<text x="459.88" y="983.80" font-size="14.7" stroke="#000" stroke-width="0.3" textLength="16.90" lengthAdjust="spacingAndGlyphs" fill="#111">A9</text>
<text x="540.90" y="983.80" font-size="14.7" stroke="#000" stroke-width="0.3" textLength="25.50" lengthAdjust="spacingAndGlyphs" fill="#111">A13</text>
<text x="604.89" y="983.80" font-size="14.7" stroke="#000" stroke-width="0.3" textLength="25.50" lengthAdjust="spacingAndGlyphs" fill="#111">A16</text>
<text x="754.30" y="983.80" font-size="14.7" stroke="#000" stroke-width="0.3" textLength="25.30" lengthAdjust="spacingAndGlyphs" fill="#111">A23</text>
<text x="499.10" y="1053.70" font-size="20.3" font-weight="bold" textLength="88.30" lengthAdjust="spacingAndGlyphs">Age (day)</text>
<text x="317.50" y="644.40" font-size="15.6" stroke="#000" stroke-width="0.3" textLength="136.00" lengthAdjust="spacingAndGlyphs"><tspan font-style="italic">r</tspan> = 0.84 [0.78;0.88]</text>
<text x="321.50" y="665.70" font-size="15.6" stroke="#000" stroke-width="0.3" textLength="129.00" lengthAdjust="spacingAndGlyphs">(p value &lt; 0.0001)</text>
<text x="674.50" y="644.40" font-size="15.6" stroke="#000" stroke-width="0.3" textLength="133.00" lengthAdjust="spacingAndGlyphs"><tspan font-style="italic">l</tspan> = 0.12 [0.07;0.17]</text>
<text x="680.50" y="665.70" font-size="15.6" stroke="#000" stroke-width="0.3" textLength="119.00" lengthAdjust="spacingAndGlyphs">(p value = 0.001)</text>
<text x="468.50" y="570.30" font-size="25.0" font-weight="bold" textLength="151.00" lengthAdjust="spacingAndGlyphs">Whole aphid</text>
<text x="252.30" y="565.20" font-size="53" font-weight="bold" textLength="31.30" lengthAdjust="spacingAndGlyphs">d</text>
<rect x="1079.43" y="610.7" width="191.97" height="352.20" fill="#cdcdcd"/>
<line x1="1080.43" y1="601.60" x2="1121.43" y2="601.60" stroke="#444" stroke-width="1.2"/>
<line x1="1229.40" y1="601.60" x2="1270.40" y2="601.60" stroke="#444" stroke-width="1.2"/>
<text x="1131.62" y="607.00" font-size="13.6" stroke="#000" stroke-width="0.3" textLength="86.50" lengthAdjust="spacingAndGlyphs" fill="#111">Laying period</text>
<line x1="1164.75" y1="961.50" x2="1164.75" y2="614.6" stroke="#000" stroke-width="2.8" stroke-linecap="round" stroke-dasharray="12.4 13.33"/>
<polyline points="887.46,962.37 889.59,962.33 891.73,962.28 893.86,962.22 895.99,962.16 898.12,962.09 900.26,962.02 902.39,961.94 904.52,961.86 906.66,961.77 908.79,961.67 910.92,961.56 913.06,961.44 915.19,961.31 917.32,961.17 919.46,961.01 921.59,960.85 923.72,960.67 925.85,960.47 927.99,960.25 930.12,960.02 932.25,959.77 934.39,959.49 936.52,959.19 938.65,958.87 940.79,958.51 942.92,958.13 945.05,957.71 947.18,957.26 949.32,956.77 951.45,956.24 953.58,955.66 955.72,955.03 957.85,954.36 959.98,953.62 962.12,952.83 964.25,951.97 966.38,951.04 968.51,950.04 970.65,948.96 972.78,947.79 974.91,946.53 977.05,945.18 979.18,943.72 981.31,942.15 983.45,940.47 985.58,938.67 987.71,936.74 989.84,934.68 991.98,932.47 994.11,930.12 996.24,927.62 998.38,924.96 1000.51,922.14 1002.64,919.16 1004.78,916.00 1006.91,912.68 1009.04,909.19 1011.17,905.52 1013.31,901.69 1015.44,897.69 1017.57,893.53 1019.71,889.21 1021.84,884.74 1023.97,880.14 1026.11,875.40 1028.24,870.56 1030.37,865.61 1032.50,860.57 1034.64,855.47 1036.77,850.32 1038.90,845.13 1041.04,839.92 1043.17,834.73 1045.30,829.55 1047.43,824.42 1049.57,819.35 1051.70,814.35 1053.83,809.45 1055.97,804.65 1058.10,799.98 1060.23,795.44 1062.37,791.05 1064.50,786.80 1066.63,782.72 1068.77,778.79 1070.90,775.04 1073.03,771.46 1075.16,768.05 1077.30,764.80 1079.43,761.73 1081.56,758.83 1083.70,756.09 1085.83,753.50 1087.96,751.07 1090.10,748.79 1092.23,746.66 1094.36,744.66 1096.49,742.79 1098.63,741.05 1100.76,739.42 1102.89,737.91 1105.03,736.50 1107.16,735.19 1109.29,733.98 1111.42,732.85 1113.56,731.81 1115.69,730.84 1117.82,729.95 1119.96,729.12 1122.09,728.36 1124.22,727.65 1126.36,727.00 1128.49,726.40 1130.62,725.84 1132.76,725.33 1134.89,724.86 1137.02,724.42 1139.15,724.02 1141.29,723.65 1143.42,723.31 1145.55,723.00 1147.69,722.71 1149.82,722.45 1151.95,722.20 1154.09,721.98 1156.22,721.77 1158.35,721.58 1160.48,721.41 1162.62,721.25 1164.75,721.10 1168.31,725.47 1171.86,729.55 1175.41,733.56 1178.97,737.50 1182.53,741.38 1186.08,745.18 1189.63,748.92 1193.19,752.60 1196.74,756.22 1200.30,759.77 1203.86,763.26 1207.41,766.69 1210.96,770.06 1214.52,773.37 1218.08,776.63 1221.63,779.83 1225.18,782.98 1228.74,786.07 1232.30,789.11 1235.85,792.09 1239.40,795.03 1242.96,797.91 1246.51,800.75 1250.07,803.54 1253.62,806.27 1257.18,808.97 1260.74,811.61 1264.29,814.21 1267.85,816.77 1271.40,819.28 1274.95,821.74 1278.51,824.17 1282.07,826.55 1285.62,828.90 1289.17,831.20 1292.73,833.46 1296.29,835.69 1299.84,837.87 1303.39,840.02 1306.95,842.13 1310.51,844.21 1314.06,846.25 1317.62,848.25 1321.17,850.22 1324.72,852.16 1328.28,854.06 1331.84,855.93 1335.39,857.77 1338.94,859.58 1342.50,861.35 1346.06,863.10 1349.61,864.81 1353.16,866.50 1356.72,868.15 1360.27,869.78 1363.83,871.38 1367.38,872.96 1370.94,874.50 1374.50,876.02 1378.05,877.51" fill="none" stroke="#000" stroke-width="2.5" stroke-linejoin="miter"/>
<circle cx="887.46" cy="962.90" r="5.6" fill="none" stroke="#000" stroke-width="2.5"/>
<circle cx="887.46" cy="962.57" r="5.6" fill="none" stroke="#000" stroke-width="2.5"/>
<circle cx="887.46" cy="963.23" r="5.6" fill="none" stroke="#000" stroke-width="2.5"/>
<circle cx="908.79" cy="962.23" r="5.6" fill="none" stroke="#000" stroke-width="2.5"/>
<circle cx="908.79" cy="961.79" r="5.6" fill="none" stroke="#000" stroke-width="2.5"/>
<circle cx="908.79" cy="962.68" r="5.6" fill="none" stroke="#000" stroke-width="2.5"/>
<circle cx="930.12" cy="959.13" r="5.6" fill="none" stroke="#000" stroke-width="2.5"/>
<circle cx="930.12" cy="958.24" r="5.6" fill="none" stroke="#000" stroke-width="2.5"/>
<circle cx="930.12" cy="959.80" r="5.6" fill="none" stroke="#000" stroke-width="2.5"/>
<circle cx="994.11" cy="954.03" r="5.6" fill="none" stroke="#000" stroke-width="2.5"/>
<circle cx="1036.77" cy="864.89" r="5.6" fill="none" stroke="#000" stroke-width="2.5"/>
<circle cx="1079.43" cy="728.97" r="5.6" fill="none" stroke="#000" stroke-width="2.5"/>
<circle cx="1164.75" cy="741.17" r="5.6" fill="none" stroke="#000" stroke-width="2.5"/>
<circle cx="1228.74" cy="779.97" r="5.6" fill="none" stroke="#000" stroke-width="2.5"/>
<circle cx="1378.05" cy="884.85" r="5.6" fill="none" stroke="#000" stroke-width="2.5"/>
<rect x="866.60" y="593.10" width="575.10" height="393.70" fill="none" stroke="#6e6e6e" stroke-width="2"/>
<line x1="855.10" y1="962.90" x2="866.60" y2="962.90" stroke="#686868" stroke-width="2"/>
<line x1="855.10" y1="929.64" x2="866.60" y2="929.64" stroke="#686868" stroke-width="2"/>
<line x1="855.10" y1="896.38" x2="866.60" y2="896.38" stroke="#686868" stroke-width="2"/>
<line x1="855.10" y1="863.12" x2="866.60" y2="863.12" stroke="#686868" stroke-width="2"/>
<line x1="855.10" y1="829.86" x2="866.60" y2="829.86" stroke="#686868" stroke-width="2"/>
<line x1="855.10" y1="796.60" x2="866.60" y2="796.60" stroke="#686868" stroke-width="2"/>
<line x1="855.10" y1="763.34" x2="866.60" y2="763.34" stroke="#686868" stroke-width="2"/>
<line x1="855.10" y1="730.08" x2="866.60" y2="730.08" stroke="#686868" stroke-width="2"/>
<line x1="855.10" y1="696.82" x2="866.60" y2="696.82" stroke="#686868" stroke-width="2"/>
<line x1="855.10" y1="663.56" x2="866.60" y2="663.56" stroke="#686868" stroke-width="2"/>
<line x1="855.10" y1="630.30" x2="866.60" y2="630.30" stroke="#686868" stroke-width="2"/>
<line x1="887.46" y1="986.80" x2="887.46" y2="997.80" stroke="#686868" stroke-width="2"/>
<text x="883.41" y="1020.70" font-size="16.5" stroke="#000" stroke-width="0.3" textLength="8.50" lengthAdjust="spacingAndGlyphs">0</text>
<line x1="930.12" y1="986.80" x2="930.12" y2="997.80" stroke="#686868" stroke-width="2"/>
<text x="926.07" y="1020.70" font-size="16.5" stroke="#000" stroke-width="0.3" textLength="8.50" lengthAdjust="spacingAndGlyphs">2</text>
<line x1="972.78" y1="986.80" x2="972.78" y2="997.80" stroke="#686868" stroke-width="2"/>
<text x="968.73" y="1020.70" font-size="16.5" stroke="#000" stroke-width="0.3" textLength="8.50" lengthAdjust="spacingAndGlyphs">4</text>
<line x1="1015.44" y1="986.80" x2="1015.44" y2="997.80" stroke="#686868" stroke-width="2"/>
<text x="1011.39" y="1020.70" font-size="16.5" stroke="#000" stroke-width="0.3" textLength="8.50" lengthAdjust="spacingAndGlyphs">6</text>
<line x1="1058.10" y1="986.80" x2="1058.10" y2="997.80" stroke="#686868" stroke-width="2"/>
<text x="1054.05" y="1020.70" font-size="16.5" stroke="#000" stroke-width="0.3" textLength="8.50" lengthAdjust="spacingAndGlyphs">8</text>
<line x1="1100.76" y1="986.80" x2="1100.76" y2="997.80" stroke="#686868" stroke-width="2"/>
<text x="1092.46" y="1020.70" font-size="16.5" stroke="#000" stroke-width="0.3" textLength="17.00" lengthAdjust="spacingAndGlyphs">10</text>
<line x1="1143.42" y1="986.80" x2="1143.42" y2="997.80" stroke="#686868" stroke-width="2"/>
<text x="1135.12" y="1020.70" font-size="16.5" stroke="#000" stroke-width="0.3" textLength="17.00" lengthAdjust="spacingAndGlyphs">12</text>
<line x1="1186.08" y1="986.80" x2="1186.08" y2="997.80" stroke="#686868" stroke-width="2"/>
<text x="1177.78" y="1020.70" font-size="16.5" stroke="#000" stroke-width="0.3" textLength="17.00" lengthAdjust="spacingAndGlyphs">14</text>
<line x1="1228.74" y1="986.80" x2="1228.74" y2="997.80" stroke="#686868" stroke-width="2"/>
<text x="1220.44" y="1020.70" font-size="16.5" stroke="#000" stroke-width="0.3" textLength="17.00" lengthAdjust="spacingAndGlyphs">16</text>
<line x1="1271.40" y1="986.80" x2="1271.40" y2="997.80" stroke="#686868" stroke-width="2"/>
<text x="1263.10" y="1020.70" font-size="16.5" stroke="#000" stroke-width="0.3" textLength="17.00" lengthAdjust="spacingAndGlyphs">18</text>
<line x1="1314.06" y1="986.80" x2="1314.06" y2="997.80" stroke="#686868" stroke-width="2"/>
<text x="1305.76" y="1020.70" font-size="16.5" stroke="#000" stroke-width="0.3" textLength="17.00" lengthAdjust="spacingAndGlyphs">20</text>
<line x1="1356.72" y1="986.80" x2="1356.72" y2="997.80" stroke="#686868" stroke-width="2"/>
<text x="1348.42" y="1020.70" font-size="16.5" stroke="#000" stroke-width="0.3" textLength="17.00" lengthAdjust="spacingAndGlyphs">22</text>
<line x1="1399.38" y1="986.80" x2="1399.38" y2="997.80" stroke="#686868" stroke-width="2"/>
<text x="1391.08" y="1020.70" font-size="16.5" stroke="#000" stroke-width="0.3" textLength="17.00" lengthAdjust="spacingAndGlyphs">24</text>
<text x="880.46" y="983.80" font-size="14.7" stroke="#000" stroke-width="0.3" textLength="12.40" lengthAdjust="spacingAndGlyphs" fill="#111">LE</text>
<text x="899.89" y="983.80" font-size="14.7" stroke="#000" stroke-width="0.3" textLength="17.20" lengthAdjust="spacingAndGlyphs" fill="#111">N1</text>
<text x="921.22" y="983.80" font-size="14.7" stroke="#000" stroke-width="0.3" textLength="17.20" lengthAdjust="spacingAndGlyphs" fill="#111">N2</text>
<text x="984.76" y="983.80" font-size="14.7" stroke="#000" stroke-width="0.3" textLength="18.10" lengthAdjust="spacingAndGlyphs" fill="#111">N3</text>
<text x="1027.47" y="983.80" font-size="14.7" stroke="#000" stroke-width="0.3" textLength="18.00" lengthAdjust="spacingAndGlyphs" fill="#111">N4</text>
<text x="1070.68" y="983.80" font-size="14.7" stroke="#000" stroke-width="0.3" textLength="16.90" lengthAdjust="spacingAndGlyphs" fill="#111">A9</text>
<text x="1151.70" y="983.80" font-size="14.7" stroke="#000" stroke-width="0.3" textLength="25.50" lengthAdjust="spacingAndGlyphs" fill="#111">A13</text>
<text x="1215.69" y="983.80" font-size="14.7" stroke="#000" stroke-width="0.3" textLength="25.50" lengthAdjust="spacingAndGlyphs" fill="#111">A16</text>
<text x="1365.10" y="983.80" font-size="14.7" stroke="#000" stroke-width="0.3" textLength="25.30" lengthAdjust="spacingAndGlyphs" fill="#111">A23</text>
<text x="1109.10" y="1053.70" font-size="20.3" font-weight="bold" textLength="88.30" lengthAdjust="spacingAndGlyphs">Age (day)</text>
<text x="931.00" y="645.00" font-size="15.6" stroke="#000" stroke-width="0.3" textLength="136.00" lengthAdjust="spacingAndGlyphs"><tspan font-style="italic">r</tspan> = 0.85 [0.73;0.96]</text>
<text x="933.50" y="666.30" font-size="15.6" stroke="#000" stroke-width="0.3" textLength="129.00" lengthAdjust="spacingAndGlyphs">(p value &lt; 0.0001)</text>
<text x="1286.00" y="645.00" font-size="15.6" stroke="#000" stroke-width="0.3" textLength="133.00" lengthAdjust="spacingAndGlyphs"><tspan font-style="italic">l</tspan> = 0.11 [0.04;0.17]</text>
<text x="1296.00" y="666.30" font-size="15.6" stroke="#000" stroke-width="0.3" textLength="111.00" lengthAdjust="spacingAndGlyphs">(p value = 0.02)</text>
<text x="1012.50" y="570.30" font-size="25.0" font-weight="bold" textLength="281.00" lengthAdjust="spacingAndGlyphs">Maternal compartment</text>
<text x="862.65" y="565.20" font-size="53" font-weight="bold" textLength="29.30" lengthAdjust="spacingAndGlyphs">e</text>
<text x="148.40" y="929.00" font-size="20.3" font-weight="bold" textLength="280.00" lengthAdjust="spacingAndGlyphs" transform="rotate(-90 148.40 929.00)">Number of symbionts / aphid</text>
</svg>
</body></html>
